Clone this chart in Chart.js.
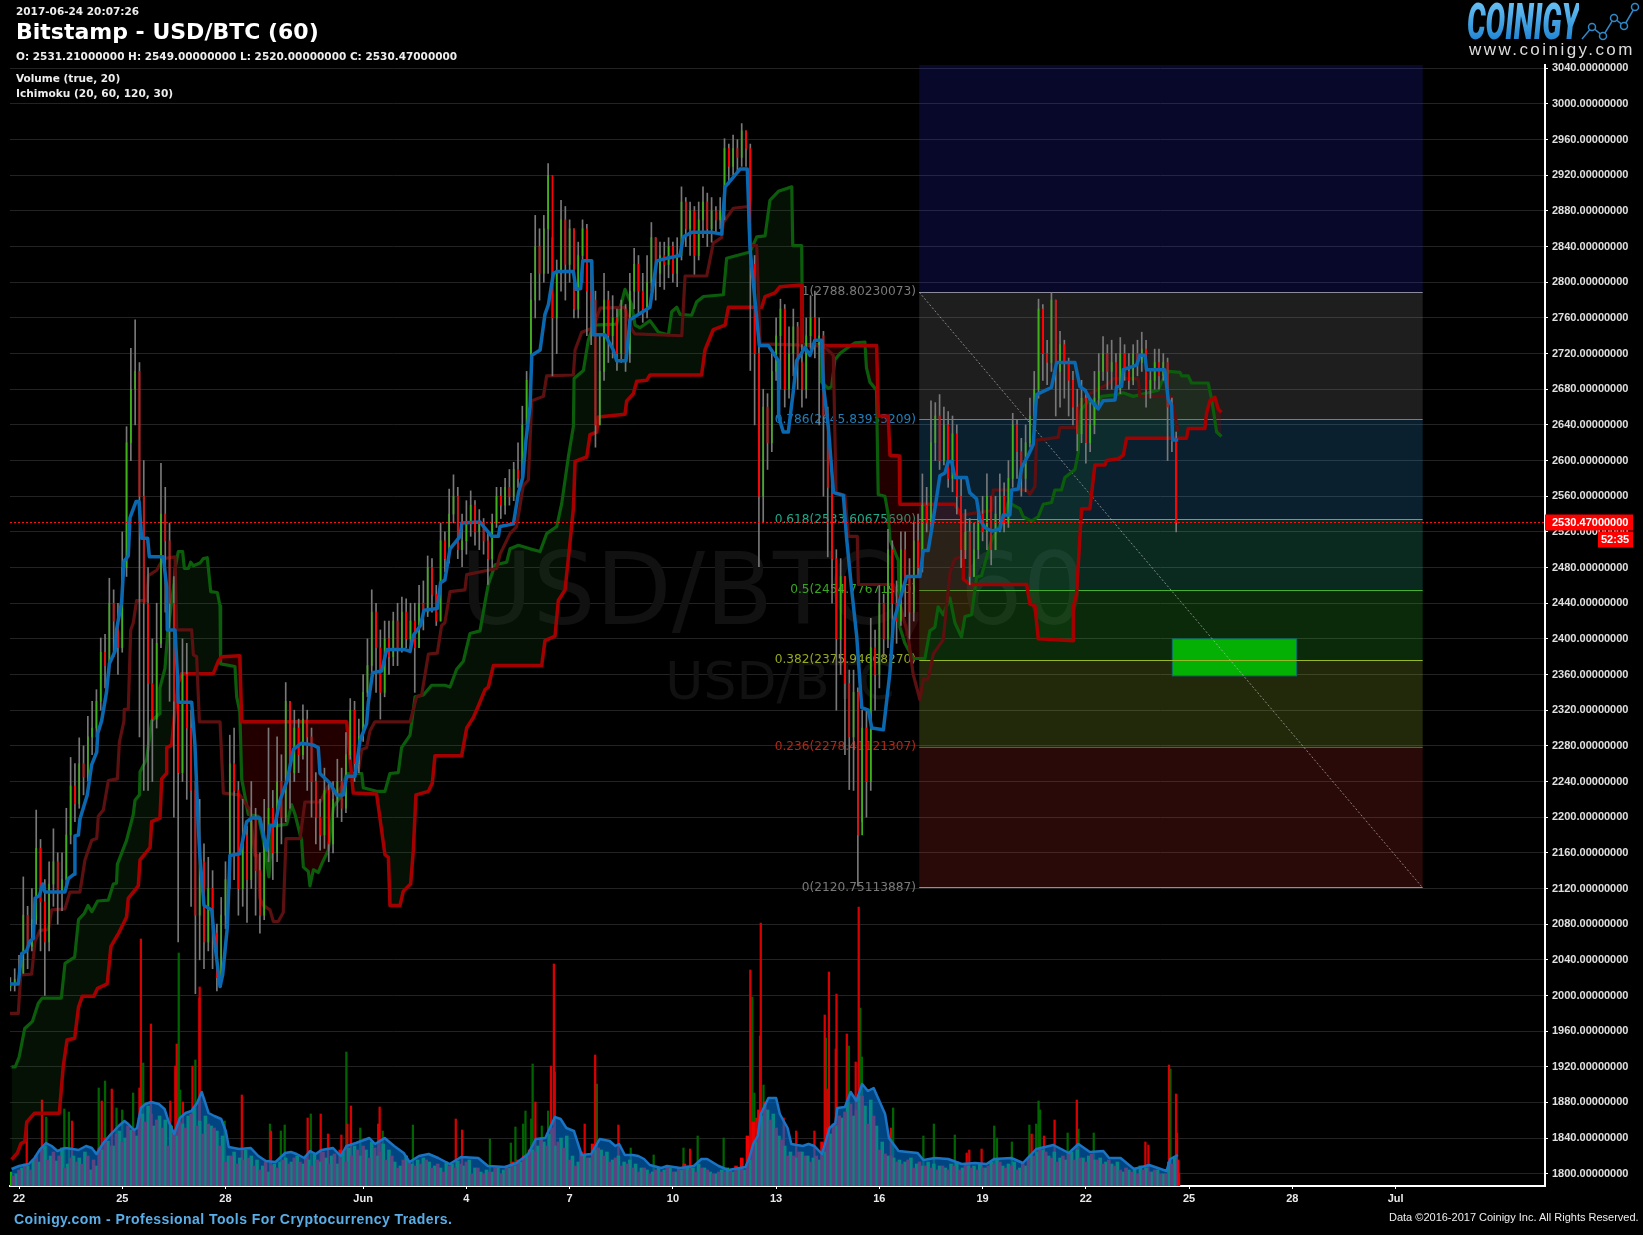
<!DOCTYPE html>
<html><head><meta charset="utf-8">
<script src="https://cdn.jsdelivr.net/npm/chart.js@4"></script>
<style>
html,body{margin:0;padding:0;background:#000;width:1643px;height:1235px;overflow:hidden}
canvas{position:absolute;left:0;top:0}
.t{position:absolute;white-space:nowrap;color:#fff;font-family:"DejaVu Sans",sans-serif;height:16px;line-height:16px}
</style></head><body>
<canvas id="c" width="1643" height="1235"></canvas>
<div class="t" style="left:16px;top:3px;font-size:10.5px;font-weight:bold;color:#eee">2017-06-24 20:07:26</div>
<div class="t" style="left:16px;top:24px;font-size:22px;font-weight:bold;">Bitstamp - USD/BTC (60)</div>
<div class="t" style="left:16px;top:48px;font-size:10.5px;font-weight:bold;color:#eee">O: 2531.21000000 H: 2549.00000000 L: 2520.00000000 C: 2530.47000000</div>
<div class="t" style="left:16px;top:70px;font-size:10.5px;font-weight:bold;color:#eee">Volume (true, 20)</div>
<div class="t" style="left:16px;top:85px;font-size:10.6px;font-weight:bold;color:#eee">Ichimoku (20, 60, 120, 30)</div>
<div class="t" style="left:14px;top:1211px;font:bold 14px 'Liberation Sans';letter-spacing:.43px;color:#5aaee8">Coinigy.com - Professional Tools For Cryptocurrency Traders.</div>
<div class="t" style="left:1389px;top:1211px;font:11px 'Liberation Sans';color:#eee">Data ©2016-2017 Coinigy Inc. All Rights Reserved.</div>
<div class="t" style="left:1467px;top:0;height:44px;font:italic 900 50px/44px Roboto;transform:scaleX(.585);transform-origin:left top;background:linear-gradient(#6cc4f5,#1a7fd0);-webkit-background-clip:text;background-clip:text;color:transparent">COINIGY</div>
<svg style="position:absolute;left:1575px;top:0" width="68" height="44" fill="none" stroke="#2f88c8" stroke-width="1.5"><polyline points="7,39 17,27 28,36 39,18 49,26 60,7"/><circle cx="17" cy="27" r="3.5" fill="#000"/><circle cx="28" cy="36" r="3.5" fill="#000"/><circle cx="39" cy="18" r="3.5" fill="#000"/><circle cx="49" cy="26" r="3.5" fill="#000"/><circle cx="60" cy="7" r="3.5" fill="#000"/></svg>
<div class="t" style="left:1469px;top:40px;font:17px 'Liberation Sans';letter-spacing:2.45px;color:#ddd">www.coinigy.com</div>
<script>
const tickHours=[0,72,144,240,312,384,456,528,600,672,744,816,888,960];
const tickNames=["22","25","28","Jun","4","7","10","13","16","19","22","25","28","Jul"];
const candleStartHour=-6, candleStepHours=3;
const candleClose=[
2012,2018,2025,2090,2055,2085,2165,2105,2060,2125,2150,2115,2130,2180,2235,2215,
2260,2245,2290,2300,2330,2385,2370,2440,2420,2390,2480,2620,2680,2700,2560,2440,
2350,2310,2395,2540,2510,2440,2330,2250,2360,2300,2230,2090,2150,2060,2120,2070,
2020,2090,2130,2260,2230,2120,2180,2130,2200,2140,2090,2180,2210,2160,2240,2200,
2330,2250,2300,2270,2310,2290,2240,2200,2180,2230,2170,2220,2240,2210,2270,2320,
2260,2290,2340,2370,2430,2390,2340,2400,2380,2420,2390,2430,2400,2420,2390,2440,
2430,2480,2450,2420,2510,2490,2540,2560,2500,2510,2530,2550,2520,2530,2510,2490,
2530,2560,2550,2570,2560,2590,2580,2640,2690,2780,2840,2810,2860,2920,2760,2810,
2870,2820,2860,2770,2830,2860,2790,2780,2640,2700,2780,2740,2760,2720,2770,2720,
2790,2820,2790,2770,2800,2850,2810,2830,2820,2840,2810,2830,2890,2860,2880,2830,
2870,2890,2860,2880,2870,2880,2950,2930,2950,2940,2970,2950,2820,2720,2560,2660,
2620,2700,2740,2770,2680,2720,2750,2710,2680,2740,2760,2730,2740,2650,2570,2490,
2400,2470,2350,2290,2340,2180,2300,2240,2390,2360,2440,2400,2500,2440,2420,2500,
2470,2430,2510,2480,2550,2530,2620,2650,2600,2640,2580,2630,2560,2500,2520,2470,
2500,2540,2520,2560,2500,2540,2560,2530,2580,2640,2610,2580,2620,2650,2680,2770,
2720,2710,2780,2700,2730,2710,2690,2660,2630,2670,2620,2640,2670,2700,2720,2700,
2710,2680,2720,2700,2690,2720,2710,2725,2680,2690,2710,2695,2710,2660,2625,2530.47];
const candleOpen=[
2010,2012,2018,2025,2090,2055,2085,2165,2105,2060,2125,2150,2115,2130,2180,2235,
2215,2260,2245,2290,2300,2330,2385,2370,2440,2420,2390,2480,2620,2680,2700,2560,
2440,2350,2310,2395,2540,2510,2440,2330,2250,2360,2300,2230,2090,2150,2060,2120,
2070,2020,2090,2130,2260,2230,2120,2180,2130,2200,2140,2090,2180,2210,2160,2240,
2200,2330,2250,2300,2270,2310,2290,2240,2200,2180,2230,2170,2220,2240,2210,2270,
2320,2260,2290,2340,2370,2430,2390,2340,2400,2380,2420,2390,2430,2400,2420,2390,
2440,2430,2480,2450,2420,2510,2490,2540,2560,2500,2510,2530,2550,2520,2530,2510,
2490,2530,2560,2550,2570,2560,2590,2580,2640,2690,2780,2840,2810,2860,2920,2760,
2810,2870,2820,2860,2770,2830,2860,2790,2780,2640,2700,2780,2740,2760,2720,2770,
2720,2790,2820,2790,2770,2800,2850,2810,2830,2820,2840,2810,2830,2890,2860,2880,
2830,2870,2890,2860,2880,2870,2880,2950,2930,2950,2940,2970,2950,2820,2720,2560,
2660,2620,2700,2740,2770,2680,2720,2750,2710,2680,2740,2760,2730,2740,2650,2570,
2490,2400,2470,2350,2290,2340,2180,2300,2240,2390,2360,2440,2400,2500,2440,2420,
2500,2470,2430,2510,2480,2550,2530,2620,2650,2600,2640,2580,2630,2560,2500,2520,
2470,2500,2540,2520,2560,2500,2540,2560,2530,2580,2640,2610,2580,2620,2650,2680,
2770,2720,2710,2780,2700,2730,2710,2690,2660,2630,2670,2620,2640,2670,2700,2720,
2700,2710,2680,2720,2700,2690,2720,2710,2725,2680,2690,2710,2695,2710,2660,2625];
const candleHigh=[
2020,2030,2045,2133,2100,2120,2208,2175,2130,2150,2187,2160,2160,2210,2267,2260,
2289,2280,2313,2330,2343,2401,2405,2468,2455,2440,2520,2638,2726,2758,2710,2600,
2480,2400,2440,2597,2570,2530,2470,2350,2400,2395,2320,2240,2220,2170,2155,2140,
2080,2110,2150,2292,2300,2240,2220,2190,2240,2210,2160,2220,2300,2230,2290,2270,
2351,2330,2320,2310,2326,2320,2300,2250,2220,2255,2240,2240,2265,2255,2295,2333,
2330,2310,2360,2400,2455,2440,2410,2420,2420,2430,2440,2447,2445,2440,2440,2460,
2465,2493,2490,2460,2530,2520,2568,2584,2570,2540,2555,2566,2555,2545,2535,2520,
2540,2570,2570,2580,2590,2598,2620,2661,2700,2810,2875,2860,2875,2933,2850,2825,
2892,2885,2870,2860,2845,2870,2865,2825,2790,2740,2810,2790,2785,2770,2780,2775,
2810,2838,2830,2810,2830,2867,2850,2845,2845,2850,2845,2850,2907,2895,2890,2885,
2890,2907,2900,2895,2885,2895,2961,2955,2965,2960,2978,2970,2955,2830,2730,2680,
2675,2720,2760,2781,2775,2750,2770,2755,2730,2760,2785,2790,2760,2745,2660,2575,
2500,2490,2470,2365,2365,2345,2320,2320,2423,2410,2460,2450,2523,2510,2465,2520,
2520,2490,2530,2540,2585,2570,2667,2665,2674,2660,2655,2650,2640,2580,2545,2535,
2530,2550,2560,2585,2560,2560,2585,2575,2600,2653,2645,2625,2640,2670,2700,2781,
2775,2735,2788,2780,2745,2735,2715,2700,2680,2690,2680,2665,2700,2720,2739,2730,
2735,2720,2738,2730,2720,2730,2735,2744,2735,2700,2725,2725,2720,2715,2670,2632];
const candleLow=[
2005,2005,2015,2025,2030,2050,2080,2050,2000,2050,2100,2080,2095,2120,2170,2195,
2210,2225,2240,2270,2290,2320,2345,2360,2380,2360,2385,2470,2600,2640,2290,2230,
2230,2240,2300,2390,2430,2330,2200,2060,2240,2220,2100,2002,2040,2030,2050,2030,
2005,2010,2075,2120,2130,2090,2100,2082,2120,2090,2070,2085,2150,2130,2150,2170,
2195,2210,2240,2250,2265,2230,2200,2170,2163,2165,2150,2160,2200,2195,2205,2265,
2240,2250,2285,2335,2360,2340,2310,2335,2360,2370,2370,2385,2390,2390,2340,2390,
2410,2425,2430,2415,2420,2475,2485,2530,2490,2481,2495,2515,2505,2500,2495,2461,
2480,2525,2535,2540,2550,2555,2570,2575,2630,2680,2760,2780,2800,2810,2695,2720,
2790,2780,2800,2760,2760,2800,2740,2730,2615,2640,2690,2710,2715,2701,2710,2700,
2710,2770,2765,2755,2760,2790,2780,2795,2792,2805,2800,2795,2825,2840,2830,2809,
2825,2850,2840,2845,2855,2860,2870,2910,2920,2925,2930,2930,2701,2640,2481,2530,
2590,2610,2690,2680,2660,2670,2695,2680,2660,2670,2725,2715,2640,2560,2492,2440,
2320,2360,2270,2231,2230,2123,2195,2200,2230,2320,2345,2380,2390,2400,2395,2415,
2425,2400,2420,2470,2475,2520,2525,2600,2590,2595,2570,2565,2540,2480,2490,2461,
2470,2490,2510,2500,2483,2500,2520,2520,2525,2570,2580,2560,2565,2615,2640,2670,
2690,2685,2700,2650,2660,2670,2650,2640,2611,2620,2597,2610,2630,2660,2690,2680,
2680,2670,2675,2690,2680,2685,2695,2700,2660,2670,2680,2680,2690,2600,2610,2520];
const tenkan=[[-6.3,2013],[-0.5,2013],[1.9,2047],[5.3,2050],[7.7,2061],[10,2064],[11.2,2109],[14.2,2112],[16.5,2125],[18.1,2116],[32,2116],[34.4,2131],[38.4,2136],[39,2179],[41.4,2180],[42.5,2198],[47.6,2225],[50.7,2259],[54.2,2273],[54.9,2294],[57.6,2308],[61,2340],[63,2372],[67,2386],[68,2410],[71.6,2442],[73.2,2487],[76.2,2493],[77.4,2536],[81.6,2554],[83.7,2554],[85.5,2513],[89.7,2513],[90.9,2492],[100.6,2492],[103,2458],[103.4,2410],[108.8,2410],[110.6,2356],[111,2329],[120.4,2329],[122.7,2281],[125,2190],[126.2,2155],[129,2101],[134.4,2096],[136.7,2056],[140.2,2010],[142,2023],[145.3,2077],[147.1,2157],[154,2159],[158.8,2195],[162.2,2199],[168,2199],[172.7,2163],[175,2191],[178.5,2191],[182,2219],[187,2241],[191.3,2276],[197,2283],[205.2,2281],[208.7,2278],[209.9,2249],[216.9,2238],[221.5,2225],[226.2,2225],[228.5,2246],[234.3,2246],[237.8,2286],[242.4,2305],[243.6,2329],[246.6,2362],[252.9,2364],[256.4,2388],[269.2,2388],[272.7,2386],[275,2404],[280,2415],[282.4,2432],[291.7,2434],[294,2463],[297,2466],[300.6,2501],[307.6,2515],[308.7,2530],[321.5,2531],[329.7,2515],[334.3,2515],[335.5,2526],[344.8,2529],[348.3,2564],[351.3,2581],[353.6,2624],[356.4,2661],[357.6,2718],[363.4,2724],[366.8,2764],[369.2,2775],[372.7,2810],[375,2812],[386.6,2812],[388.5,2792],[391.7,2793],[393.1,2824],[399.4,2824],[400.6,2741],[408.7,2741],[414.5,2724],[416.8,2712],[423.3,2712],[426.1,2758],[440,2772],[444.7,2824],[451.7,2827],[461,2830],[463.3,2851],[469.1,2856],[483,2856],[490,2854],[492.4,2907],[498.2,2918],[502.8,2927],[507.9,2927],[509.8,2838],[516.3,2729],[522.6,2729],[529.6,2712],[529.8,2649],[533,2632],[536.5,2632],[540,2678],[542.3,2712],[548.2,2727],[551.6,2718],[555,2735],[559.8,2735],[561,2684],[564.4,2638],[568,2564],[574.9,2561],[577.2,2512],[580.7,2455],[584.2,2403],[587.7,2323],[592.3,2320],[594.7,2300],[602.8,2298],[607.4,2363],[609.7,2418],[619,2470],[628.3,2470],[630.6,2499],[634,2499],[637.6,2534],[642.2,2583],[645.7,2586],[648,2599],[650.4,2599],[652.7,2581],[660.8,2581],[663,2564],[667.8,2557],[670,2534],[673.6,2525],[678.3,2521],[684,2523],[686.4,2539],[691,2539],[692.2,2567],[696.9,2568],[699.2,2592],[703.8,2606],[707.3,2618],[709.6,2674],[720,2682],[723.6,2710],[736.4,2710],[739.9,2683],[743.4,2679],[746.8,2669],[752.6,2658],[756,2667],[764.3,2668],[765.4,2683],[768.9,2683],[770,2702],[779.4,2707],[781.7,2718],[785.2,2718],[786.3,2702],[799,2702],[801.4,2669],[803.8,2662],[804.5,2623],[808.4,2623]];
const kijun=[[-6.3,1980],[-0.5,1980],[1.2,2023],[8.8,2024],[11.2,2061],[14.6,2073],[20.5,2074],[22.8,2096],[32,2097],[35.5,2116],[42.5,2116],[46,2152],[50.7,2174],[54.2,2176],[55.3,2201],[58.8,2208],[62.3,2241],[68.6,2243],[70,2284],[73.2,2308],[73.4,2321],[76.2,2321],[77.9,2410],[79.7,2418],[82,2443],[89,2443],[90.2,2471],[96,2477],[100.6,2490],[108.8,2492],[110,2410],[120.4,2410],[121.6,2382],[123.9,2380],[125.8,2307],[140.2,2307],[142.5,2227],[154,2225],[161,2208],[164.6,2157],[166.9,2157],[168,2109],[170.4,2101],[175,2096],[177.4,2083],[180.8,2083],[184.3,2093],[186.2,2176],[196,2176],[199.4,2217],[209.9,2217],[215.7,2235],[221.5,2225],[228.5,2243],[236.6,2251],[239,2276],[242.4,2278],[244.8,2297],[248.2,2307],[272.7,2307],[277.3,2335],[280.8,2337],[285.5,2383],[291.7,2384],[294.7,2415],[297,2418],[300.6,2453],[311,2455],[312.2,2472],[333.1,2479],[335.5,2495],[342.4,2518],[347,2526],[351.7,2572],[355.2,2578],[357.6,2667],[365.7,2672],[368,2695],[386.6,2696],[387.8,2724],[392.4,2744],[400.6,2749],[405.2,2771],[422.6,2772],[427.3,2747],[429.6,2742],[462.2,2740],[464.5,2807],[479.6,2807],[484.2,2844],[490,2850],[491.2,2867],[498.2,2883],[508.6,2885],[509.8,2841],[514.5,2841],[516.8,2731],[561,2729],[567.9,2718],[569.8,2564],[576,2561],[578.4,2515],[584.6,2515],[585.4,2461],[609.7,2461],[614.3,2439],[620,2404],[623.6,2360],[628.3,2332],[630.6,2355],[634,2355],[637.6,2383],[644.5,2399],[649.2,2474],[652.7,2490],[657.3,2492],[658.5,2539],[678.3,2544],[679.4,2567],[702.7,2567],[705,2562],[708.5,2571],[709.6,2623],[724.7,2626],[725.9,2637],[737.5,2637],[738.7,2660],[745.7,2674],[759.6,2686],[763.1,2692],[780.5,2692],[781.7,2672],[803.8,2672],[808.4,2632]];
const senkouA=[[-5.2,1920],[-2.6,1920],[0.1,1931],[4,1963],[9.4,1971],[13.4,1991],[16.1,1997],[29.5,1997],[32.1,2036],[38.8,2043],[41.5,2085],[45.5,2092],[48.1,2101],[50.8,2094],[54.8,2106],[62.3,2107],[65.8,2125],[68,2126],[68.6,2147],[75,2174],[79.7,2203],[80.9,2219],[84,2225],[84.4,2251],[89,2265],[92.5,2308],[97.9,2316],[98.3,2345],[101.8,2367],[103.7,2407],[108.1,2463],[108.8,2479],[111.1,2498],[114.1,2498],[115.3,2479],[118.1,2479],[119.7,2486],[121.6,2482],[126.2,2485],[128.5,2490],[131.3,2491],[133.7,2453],[138.3,2452],[140.2,2437],[140.6,2372],[150.6,2369],[151.8,2335],[154,2318],[155.3,2243],[159.9,2203],[166.9,2201],[170.4,2174],[174.3,2133],[176.9,2190],[186.7,2192],[190.1,2214],[192.5,2203],[197.1,2174],[198.3,2144],[201.8,2139],[202.9,2123],[205.3,2141],[208.7,2138],[211,2147],[215.7,2163],[219.2,2211],[223.8,2222],[228.5,2249],[239,2249],[240.1,2233],[249.4,2229],[255.2,2229],[258.7,2249],[264.5,2250],[266.8,2278],[272.7,2292],[276.2,2335],[282,2337],[287.8,2348],[297,2348],[300.6,2346],[305.2,2366],[309.9,2375],[314.5,2406],[321.5,2409],[325,2441],[327.3,2461],[332,2483],[340.1,2486],[342.4,2501],[348.3,2505],[356.4,2501],[363.4,2498],[368,2518],[375,2526],[378.5,2552],[383.1,2604],[386.6,2638],[387.1,2692],[393.6,2701],[397,2735],[400.6,2752],[416.8,2753],[418,2764],[422.6,2792],[427.3,2775],[429.6,2752],[433.1,2749],[440,2757],[445.9,2744],[452.9,2741],[455.2,2767],[458.7,2772],[461,2764],[469.1,2763],[472.6,2778],[477.3,2784],[491.2,2786],[493.5,2827],[509.8,2834],[514.5,2851],[520.3,2852],[523.7,2892],[529.6,2902],[538.9,2907],[539.6,2841],[545.8,2841],[546.5,2730],[558.5,2730],[559.7,2688],[564.4,2681],[566.7,2683],[569,2713],[572.5,2720],[578.3,2727],[583,2732],[589.9,2733],[591,2704],[593.4,2688],[598,2679],[599.2,2562],[603.9,2560],[606.2,2539],[607.4,2511],[613.2,2488],[614.3,2413],[617.8,2395],[623.6,2378],[631.8,2378],[635.2,2409],[638.7,2413],[641,2436],[644.5,2427],[649.2,2446],[652.7,2418],[657.3,2402],[659.7,2425],[664.3,2427],[667.8,2469],[671.3,2471],[674.8,2492],[678.3,2511],[686.4,2534],[689.9,2553],[698,2546],[700.3,2537],[706.1,2532],[710.8,2537],[714.3,2551],[720.1,2553],[722.4,2567],[727,2567],[729.4,2581],[736.4,2590],[738.7,2609],[739.9,2655],[746.8,2669],[750.3,2660],[755,2672],[765.4,2674],[770,2676],[777,2672],[787.5,2676],[794.5,2679],[796.8,2688],[801.4,2700],[809.6,2699],[810.8,2695],[815.4,2695],[817.7,2687],[829.3,2687],[831.7,2669],[835.2,2632],[838.6,2627]];
const senkouB=[[-5.2,1816],[-1.2,1823],[1.4,1834],[4.1,1836],[5.4,1858],[10.8,1868],[28.1,1868],[30.8,1920],[33.5,1950],[38.8,1952],[41.5,1987],[44.1,1999],[52.1,1999],[54.8,2008],[61.5,2013],[64.1,2055],[69.5,2070],[73.5,2083],[75,2088],[76.2,2109],[83.2,2123],[84.4,2152],[91.4,2166],[92.5,2195],[98.3,2199],[99.5,2243],[102.8,2249],[103,2278],[106.5,2281],[108.8,2321],[111.1,2351],[113.4,2361],[135.5,2361],[139,2375],[141.3,2380],[154,2381],[155.3,2307],[228.5,2307],[233.1,2227],[249.4,2226],[255.2,2158],[257.6,2155],[258.7,2101],[265.7,2101],[268,2117],[273.1,2125],[275,2163],[276.8,2225],[285.5,2229],[288.2,2238],[290.1,2269],[308.7,2269],[312.2,2300],[316.9,2312],[320.4,2325],[325,2343],[327.3,2346],[330.8,2370],[364.5,2370],[366.8,2398],[373.8,2403],[376.1,2443],[380.8,2455],[383.8,2501],[386.6,2546],[387.8,2599],[395.9,2604],[398.2,2629],[402.9,2632],[404,2649],[422.6,2652],[423.8,2667],[428.4,2675],[430.8,2689],[437.7,2690],[440,2696],[476,2696],[478.4,2724],[484.2,2747],[492.4,2752],[494.7,2772],[518,2772],[520.3,2784],[527.2,2788],[530.7,2795],[545.8,2797],[546,2729],[598.1,2729],[599.3,2650],[606.2,2650],[607.4,2606],[613.9,2605],[614.3,2551],[652.7,2551],[658.5,2534],[658.6,2467],[663.1,2461],[702.7,2461],[705,2439],[708.5,2437],[710.8,2400],[735.2,2398],[735.3,2436],[737.5,2450],[741,2546],[746.8,2546],[750.3,2595],[757.3,2595],[758.5,2600],[766.6,2602],[770.1,2606],[772.4,2625],[814.2,2625],[815.4,2636],[827,2636],[828.2,2653],[830.5,2667],[834,2671],[836.3,2658],[838.6,2654]];
const volumeAverage=[[-5.2,17],[0.1,20],[6.8,22],[10.8,28],[14.8,37],[18.8,43],[22.8,40],[26.8,35],[32.1,38],[37.5,37],[41.5,36],[46.8,40],[50.8,38],[54,32],[58.8,43],[64.1,52],[69.5,60],[73.5,65],[76.2,62],[80.2,56],[82.3,58],[85,78],[88.2,82],[92.2,84],[97.5,82],[101.5,77],[104.2,65],[108.2,52],[112.2,68],[116.2,73],[120.2,75],[124.2,83],[127.4,94],[129.5,85],[132.2,73],[136.2,70],[141,67],[144.2,55],[146.3,39],[153.5,37],[161.6,38],[166.9,30],[172.2,25],[178.9,24],[185.6,33],[189.6,34],[193.6,32],[198.9,28],[202.9,35],[206.9,32],[210.9,36],[219,38],[224.3,30],[228.3,40],[235,43],[244.3,48],[248.3,42],[255,48],[261.6,40],[268.3,33],[272.3,24],[279,30],[285.7,32],[292.3,28],[300.3,22],[308.3,29],[320.3,28],[327,20],[339,19],[347,23],[355,32],[360.4,47],[367,48],[373.7,69],[377.7,67],[381.7,58],[387,55],[392.4,31],[399,32],[405,47],[411.9,45],[415.9,40],[418.5,42],[422.5,31],[427.9,31],[431.9,30],[435.9,27],[439.9,21],[447.9,18],[451.9,20],[461.2,18],[470.6,20],[475.9,27],[479.9,27],[487.9,20],[494.6,16],[506.6,19],[509.3,28],[512,42],[515.2,50],[517.3,72],[522.6,88],[528,88],[530.6,72],[536,58],[538.6,42],[546.6,40],[550.6,42],[554.7,40],[560,32],[565.3,58],[569.3,63],[570.7,78],[576,79],[580,94],[584,85],[588,102],[592,95],[596,98],[600,85],[604,72],[606.7,48],[613.4,35],[626.7,33],[630.7,26],[638.7,28],[648,27],[657.4,22],[666.7,23],[674.7,22],[680,27],[692.1,28],[700.1,23],[709.4,37],[721.4,41],[732.1,33],[738.8,42],[746.8,34],[756.2,35],[760.2,28],[768.2,28],[777.5,17],[788.2,21],[800.2,15],[802.8,27],[808.2,31]];
const volumeGreenBase=[14,12,18,20,26,24,40,30,25,38,22,30,28,34,16,20,36,45,40,55,48,56,50,72,80,60,70,66,60,50,62,70,78,65,70,60,55,50,30,34,28,36,30,26,20,14,22,24,28,24,30,22,26,32,24,28,30,22,34,38,40,30,36,44,30,42,36,24,20,30,22,26,28,24,20,18,24,22,25,20,26,18,14,16,14,18,16,18,20,24,30,36,40,44,52,40,48,50,30,24,30,28,36,36,34,26,30,24,26,22,18,16,14,18,16,18,14,16,20,18,22,18,14,12,16,18,14,18,16,26,44,70,76,72,50,40,34,28,34,30,28,26,34,52,60,68,84,70,90,80,86,60,44,30,28,26,24,28,22,20,24,22,20,18,22,24,18,20,20,22,18,24,26,20,22,24,18,20,30,34,36,30,34,28,26,34,36,28,30,26,28,24,22,24,14,16,18,20,18,14,16,12,24,28];
const volumeRedBase=[10,16,22,16,30,36,26,34,30,18,28,24,22,30,26,38,48,40,52,44,60,56,68,64,72,66,58,40,56,64,58,72,60,52,62,58,40,24,30,22,26,28,20,16,24,20,18,26,22,28,24,30,20,26,34,22,32,36,24,30,36,40,28,38,34,26,30,18,26,24,20,22,26,18,22,14,20,18,22,24,12,18,12,14,18,12,20,24,26,30,36,34,48,40,58,44,38,26,20,34,28,42,38,30,24,28,20,22,18,14,18,12,16,14,20,14,18,22,16,14,18,16,12,14,14,16,20,28,50,64,76,84,66,58,46,30,30,34,30,24,30,44,58,62,70,74,82,76,90,62,70,36,32,30,24,22,26,18,24,20,18,16,20,16,20,16,22,18,16,18,20,22,24,18,20,16,22,28,30,38,34,28,24,30,32,26,28,24,32,26,22,26,20,16,18,14,12,16,14,16,12,12,22,26];
const volumeRedSpikes=[[5.4,65],[16,86],[37,65],[57.7,85],[64.7,97],[84,98],[85,247],[92,162],[105.5,85],[110,142],[109,120],[114.3,84],[121,120],[125.8,188],[126,199],[155.4,91],[175.7,55],[201.3,68],[210.4,72],[215.5,52],[224.8,51],[229,62],[231.5,80],[250.5,62],[251.5,79],[304.6,67],[309,56],[360.1,84],[371,120],[373,222],[394.5,62],[401.8,131],[418,61],[468,37],[508.7,42],[510,216],[514.1,68],[516.8,150],[517.3,263],[533.3,68],[542,55],[554.7,55],[561.9,171],[563.7,97],[564.8,214],[569.6,137],[570.1,192],[577.3,152],[583.5,124],[585.6,279],[608,58],[660.9,33],[662.7,36],[671.3,37],[706.2,52],[714.8,50],[722.2,66],[737.7,86],[785.5,44],[787.6,41],[802,121],[806.9,92],[807.6,53],[809,13]];
const volumeGreenSpikes=[[19,69],[31.6,77],[34.8,74],[55.6,98],[60,105],[68,78],[72,76],[79.6,93],[86.6,123],[111.4,233],[112.4,96],[123,126],[143.4,65],[175,62],[182.6,55],[185.3,61],[203.5,72],[228.3,134],[238,58],[253.6,55],[274.7,61],[328.4,47],[343,43],[346.2,59],[351.6,62],[353.2,75],[357.2,67],[358.2,122],[364.6,60],[369,75],[373.7,114],[403,102],[426.6,38],[442.6,31],[463.4,38],[473.3,50],[491.4,48],[511.4,189],[512.8,93],[519.2,101],[562.7,148],[578.7,140],[586.7,178],[587.8,129],[609.6,78],[630.7,50],[638,62],[652.6,51],[680.1,60],[682,48],[692.4,44],[704.6,61],[709.4,62],[711,85],[712.1,76],[731.3,53],[738.8,57],[749.5,53],[803,117]];
const fibLevels=[1,0.786,0.618,0.5,0.382,0.236,0];
const fibPrices=[2788.80230073,2645.83935209,2533.60675690,2454.77671980,2375.94668270,2278.41121307,2120.75113887];
const fibStartHour=627.8, fibEndHour=978.9;
const fibLine=["#8c8c9c","#3a8fc4","#3fb090","#48b030","#98b828","#c03020","#909090"];
const fibText=["#7a7a7a","#1f80bc","#20a888","#38a820","#98a820","#b02818","#7a7a7a"];
const fibBand=["rgba(40,40,210,.2)","rgba(150,150,150,.2)","rgba(50,160,230,.2)","rgba(50,210,160,.2)","rgba(50,210,50,.2)","rgba(170,200,50,.2)","rgba(210,50,40,.2)"];
const boxHours=[804.3,891], boxPrices=[2400,2358.5];
const lastPrice=2530.47, countdown="52:35";
const yMin=1786.3, yMax=3043.7, xMin=-6.28, xMax=1064.2;

const pts=a=>a.map(p=>({x:p[0],y:p[1]}));
const candleHours=candleClose.map((_,i)=>candleStartHour+candleStepHours*i);
const bar=(label,data,color,thick,order,axis)=>({type:'bar',label,data,backgroundColor:color,barThickness:thick,grouped:false,order,yAxisID:axis,borderWidth:0,borderSkipped:false});
const line=(label,data,color,w,order,extra)=>Object.assign({type:'line',label,data:pts(data),borderColor:color,borderWidth:w,pointRadius:0,tension:0,fill:false,order,yAxisID:'y',borderJoinStyle:'round'},extra||{});

const drawFib={id:'drawFib',beforeDatasetsDraw(c){
 const g=c.ctx,X=c.scales.x,Y=c.scales.y,a=c.chartArea;
 g.save();
 g.beginPath();g.rect(a.left,a.top,a.width,a.height);g.clip();
 g.fillStyle='#111111';g.textAlign='center';g.textBaseline='middle';
 g.font='99px "DejaVu Sans"';g.fillText('USD/BTC, 60',773,598);
 g.font='52px "DejaVu Sans"';g.fillText('USD/BTC',780,685);
 const x0=X.getPixelForValue(fibStartHour),x1=X.getPixelForValue(fibEndHour);
 g.fillStyle=fibBand[0];g.fillRect(x0,a.top,x1-x0,Y.getPixelForValue(fibPrices[0])-a.top);
 for(let i=0;i<6;i++){const u=Y.getPixelForValue(fibPrices[i]),v=Y.getPixelForValue(fibPrices[i+1]);g.fillStyle=fibBand[i+1];g.fillRect(x0,u,x1-x0,v-u);}
 g.font='12.2px "DejaVu Sans"';g.textAlign='right';
 fibLevels.forEach((l,i)=>{g.fillStyle=fibText[i];g.fillText(l+'('+fibPrices[i].toFixed(8)+')',916,Y.getPixelForValue(fibPrices[i]));});
 const bx0=X.getPixelForValue(boxHours[0]),bx1=X.getPixelForValue(boxHours[1]),by0=Y.getPixelForValue(boxPrices[0]),by1=Y.getPixelForValue(boxPrices[1]);
 g.fillStyle='#05b005';g.fillRect(bx0,by0,bx1-bx0,by1-by0);g.strokeStyle='#0b6e6e';g.lineWidth=1;g.strokeRect(bx0,by0,bx1-bx0,by1-by0);
 fibLevels.forEach((l,i)=>{const y=Math.floor(Y.getPixelForValue(fibPrices[i]))+.5;g.strokeStyle=fibLine[i];g.beginPath();g.moveTo(x0,y);g.lineTo(x1,y);g.stroke();});
 g.strokeStyle='rgba(190,190,190,.65)';g.setLineDash([2,2]);g.beginPath();g.moveTo(x0,Y.getPixelForValue(fibPrices[0]));g.lineTo(x1,Y.getPixelForValue(fibPrices[6]));g.stroke();
 g.restore();
},afterDraw(c){
 const g=c.ctx,Y=c.scales.y,a=c.chartArea,y=Math.floor(Y.getPixelForValue(lastPrice))+.5;
 g.save();
 g.strokeStyle='#ff1010';g.lineWidth=1;g.setLineDash([2,2]);g.beginPath();g.moveTo(a.left,y);g.lineTo(a.right,y);g.stroke();g.setLineDash([]);
 g.fillStyle='#ff0000';g.fillRect(1545,y-8,88,16);g.fillRect(1598,y+9,35,16);
 g.fillStyle='#fff';g.font='bold 11px "Liberation Sans"';g.textAlign='left';g.textBaseline='middle';
 g.fillText(lastPrice.toFixed(8),1552,y+.5);g.fillText(countdown,1601,y+17.5);
 g.restore();
}};

new Chart(document.getElementById('c'),{
 type:'line',
 data:{datasets:[
  bar('Volume base red',volumeRedBase.map((v,i)=>({x:-4+4*i,y:v})),'#f00000',2.9,60,'v'),
  bar('Volume base green',volumeGreenBase.map((v,i)=>({x:-6+4*i,y:v})),'#10b000',2.9,60,'v'),
  bar('Volume red',pts(volumeRedSpikes),'#d80000',1.6,60,'v'),
  bar('Volume green',pts(volumeGreenSpikes),'#006400',1.6,60,'v'),
  Object.assign(line('Volume MA',volumeAverage,'#1a74c4',2.5,50),{yAxisID:'v',fill:{target:'origin',above:'rgba(0,110,210,.62)'}}),
  line('Senkou A',senkouA,'#0b5c0b',3.2,40,{fill:{target:'+1',above:'rgba(40,130,40,.13)',below:'rgba(170,0,0,.2)'}}),
  line('Senkou B',senkouB,'#a40000',3.5,39),
  line('Kijun',kijun,'#5c1010',3.2,38),
  bar('Wick',candleHours.map((h,i)=>({x:h,y:[candleLow[i],candleHigh[i]]})),'#787878',1,30,'y'),
  bar('Body',candleHours.map((h,i)=>({x:h,y:[candleOpen[i],candleClose[i]]})),candleClose.map((v,i)=>v>=candleOpen[i]?'#3fb01c':'#ff0000'),1,29,'y'),
  line('Tenkan',tenkan,'#0a68b0',3.5,20)
 ]},
 options:{
  responsive:false,animation:false,events:[],
  layout:{padding:{left:10,top:65,right:0,bottom:0}},
  plugins:{legend:{display:false},tooltip:{enabled:false},title:{display:false}},
  scales:{
   x:{type:'linear',min:xMin,max:xMax,offset:false,
     afterBuildTicks(s){s.ticks=tickHours.map(v=>({value:v}));},
     afterFit(s){s.height=49;},
     grid:{drawOnChartArea:false,drawTicks:true,tickLength:3,tickColor:'#fff',offset:false},
     border:{color:'#fff',width:2},
     ticks:{autoSkip:false,maxRotation:0,color:'#e8e8e8',padding:3,font:{family:'Liberation Sans',size:11,weight:'bold'},
       callback(v){const i=tickHours.indexOf(v);return i<0?'':tickNames[i];}}},
   y:{position:'right',min:yMin,max:yMax,
     afterBuildTicks(s){const t=[];for(let v=1800;v<=3040;v+=40)t.push({value:v});s.ticks=t;},
     afterFit(s){s.width=98;},
     grid:{color:'#232323',lineWidth:1,tickColor:'#fff',tickLength:3,drawTicks:true},
     border:{color:'#fff',width:2},
     ticks:{autoSkip:false,color:'#e0e0e0',padding:4,font:{family:'Liberation Sans',size:11,weight:'bold'},callback:v=>v.toFixed(8)}},
   v:{display:false,min:0,max:1121}
  }
 },
 plugins:[drawFib]
});
</script>
</body></html>
